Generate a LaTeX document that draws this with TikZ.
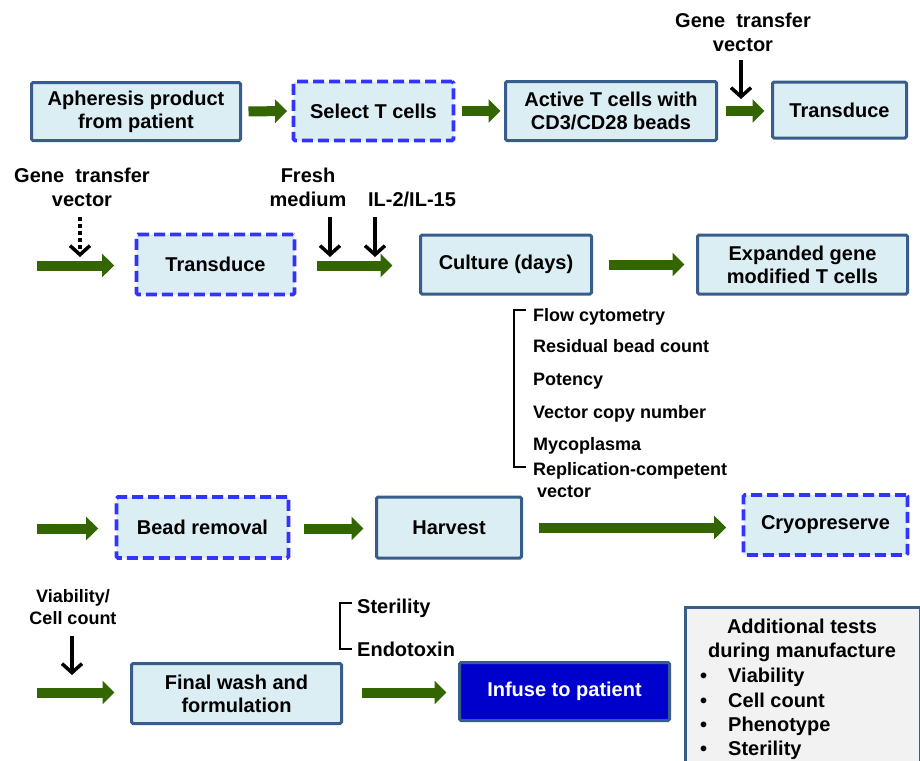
\documentclass[tikz,border=0pt]{standalone}
\usepackage{fontspec}
\setmainfont{Liberation Sans}
\usetikzlibrary{arrows.meta}
\definecolor{boxfill}{RGB}{219,238,244}
\definecolor{boxborder}{RGB}{56,93,138}
\definecolor{dashblue}{RGB}{51,51,255}
\definecolor{arrowgreen}{RGB}{51,102,0}
\definecolor{grayfill}{RGB}{242,242,242}
\definecolor{infblue}{RGB}{0,0,204}
\begin{document}
\begin{tikzpicture}[x=1pt,y=-1pt,
  box/.style={draw=boxborder, fill=boxfill, line width=3pt, rounded corners=1.5pt, align=center, inner sep=0pt, font=\bfseries\fontsize{20}{23}\selectfont},
  dbox/.style={box, draw=dashblue, line width=3.8pt, dash pattern=on 11pt off 5pt},
  garrow/.style={draw=arrowgreen, line width=10pt, -{Triangle[width=23pt,length=12pt]}},
  barrow/.style={draw=black, line width=3.5pt, -{Straight Barb[length=9pt,width=20pt]}},
  darrow/.style={barrow, dash pattern=on 4pt off 3pt},
  lab/.style={align=center, inner sep=0pt, font=\bfseries\fontsize{20}{24}\selectfont},
  slab/.style={align=center, inner sep=0pt, font=\bfseries\fontsize{18}{22}\selectfont},
  item/.style={anchor=base west, inner sep=0pt, font=\bfseries\fontsize{18}{22}\selectfont},
  bitem/.style={anchor=base west, inner sep=0pt, font=\bfseries\fontsize{20}{24}\selectfont},
  brk/.style={draw=black, line width=2.5pt}
]
\useasboundingbox (0,0) rectangle (920,760);
\clip (0,0) rectangle (920,760);

% Row 1
\node[box, minimum width=209pt, minimum height=58pt] (aph) at (136,111.5) {Apheresis product\\from patient};
\node[dbox, minimum width=160pt, minimum height=59pt] (sel) at (373.5,111) {Select T cells};
\node[box, minimum width=211pt, minimum height=59pt] (act) at (611,111) {Active T cells with\\CD3/CD28 beads};
\node[box, minimum width=134pt, minimum height=56pt] (trd1) at (839.5,110) {Transduce};
\node[lab] (gtv1) at (743,32) {Gene~~transfer\\vector};
\coordinate (v1) at (741,99);

\draw[garrow, shorten <=6.5pt, shorten >=4.5pt] (aph.east) -- (sel.west);
\draw[garrow, shorten <=6.5pt, shorten >=3.5pt] (sel.east) -- (act.west);
\draw[garrow, shorten <=7.5pt, shorten >=6.5pt] (act.east) -- (act.east -| trd1.west);
\draw[barrow, shorten <=8pt] (gtv1.south -| v1) -- (v1);

% Row 2
\node[dbox, minimum width=158pt, minimum height=60pt] (trd2) at (215.5,264.5) {Transduce};
\node[box, minimum width=171pt, minimum height=59pt] (cul) at (506,264.5) {Culture (days)};
\node[box, minimum width=210pt, minimum height=59pt] (exp) at (802.5,264.5) {Expanded gene\\modified T cells};
\node[lab] (gtv2) at (82,187) {Gene~~transfer\\vector};
\node[lab] (fm) at (308,187) {Fresh\\medium};
\node[lab] (il) at (412,199) {IL-2/IL-15};
\coordinate (s2) at (37,265.5);
\coordinate (v2) at (80,257);
\coordinate (v3) at (330,257);
\coordinate (v4) at (375,257);

\draw[garrow, shorten >=20.5pt] (s2) -- (s2 -| trd2.west);
\draw[garrow, shorten <=20.5pt, shorten >=26.5pt] (trd2.east) ++(0,1) -- (cul.west |- s2);
\draw[garrow, shorten <=15.5pt, shorten >=11.5pt] (cul.east) -- (exp.west);
\draw[darrow, shorten <=10pt] (gtv2.south -| v2) -- (v2);
\draw[barrow, shorten <=10pt] (fm.south -| v3) -- (v3);
\draw[barrow, shorten <=10.5pt] (il.south -| v4) -- (v4);

% Test list
\draw[brk] (526,310) -- (514,310) -- (514,467) -- (526,467);
\node[item] (t1) at (533,321) {Flow cytometry};
\node[item] (t2) at (533,352) {Residual bead count};
\node[item] (t3) at (533,385) {Potency};
\node[item] (t4) at (533,418) {Vector copy number};
\node[item] (t5) at (533,450) {Mycoplasma};
\node[item] (t6) at (533,475) {Replication-competent};
\node[item] (t7) at (537,497) {vector};

% Row 3
\node[dbox, minimum width=172pt, minimum height=61pt] (bead) at (202.5,527.5) {Bead removal};
\node[box, minimum width=145pt, minimum height=61pt] (harv) at (449,527.5) {Harvest};
\node[dbox, minimum width=164pt, minimum height=60pt] (cryo) at (825.5,525) {Cryopreserve};
\coordinate (s3) at (37,528.5);

\draw[garrow, shorten >=16.5pt] (s3) -- (s3 -| bead.west);
\draw[garrow, shorten <=13.5pt, shorten >=11.5pt] (bead.east) ++(0,1) -- (harv.west |- s3);
\draw[garrow, shorten <=15.5pt, shorten >=15.5pt] (harv.east) -- (harv.east -| cryo.west);

% Row 4
\node[box, minimum width=210pt, minimum height=60pt] (fin) at (236.5,693.5) {Final wash and\\formulation};
\node[box, fill=infblue, text=white, minimum width=210pt, minimum height=58pt] (inf) at (564.5,691.5) {Infuse to patient};
\node[slab] (vc) at (73,607.5) {Viability/\\Cell count};
\coordinate (v5) at (72,675);
\coordinate (s4) at (37,692.5);

\draw[garrow, shorten >=15.5pt] (s4) -- (s4 -| fin.west);
\draw[garrow, shorten <=18.5pt, shorten >=11.5pt] (fin.east |- s4) -- (s4 -| inf.west);
\draw[barrow, shorten <=11pt] (vc.south -| v5) -- (v5);

\draw[brk] (352,603) -- (340,603) -- (340,649) -- (352,649);
\node[bitem] (st) at (357,613) {Sterility};
\node[bitem] (en) at (357,656) {Endotoxin};

% Additional tests
\node[draw=boxborder, fill=grayfill, line width=3pt, anchor=north west, minimum width=235pt, minimum height=190pt, inner sep=0pt] (add) at (684,606) {};
\node[lab, anchor=base] (a1) at (802,633) {Additional tests};
\node[lab, anchor=base] (a2) at (802,657) {during manufacture};
\node[bitem] (b1) at (700,682) {•};
\node[bitem] (b2) at (700,707) {•};
\node[bitem] (b3) at (700,731) {•};
\node[bitem] (b4) at (700,755) {•};
\node[bitem] (c1) at (728,682) {Viability};
\node[bitem] (c2) at (728,707) {Cell count};
\node[bitem] (c3) at (728,731) {Phenotype};
\node[bitem] (c4) at (728,755) {Sterility};
\end{tikzpicture}
\end{document}
